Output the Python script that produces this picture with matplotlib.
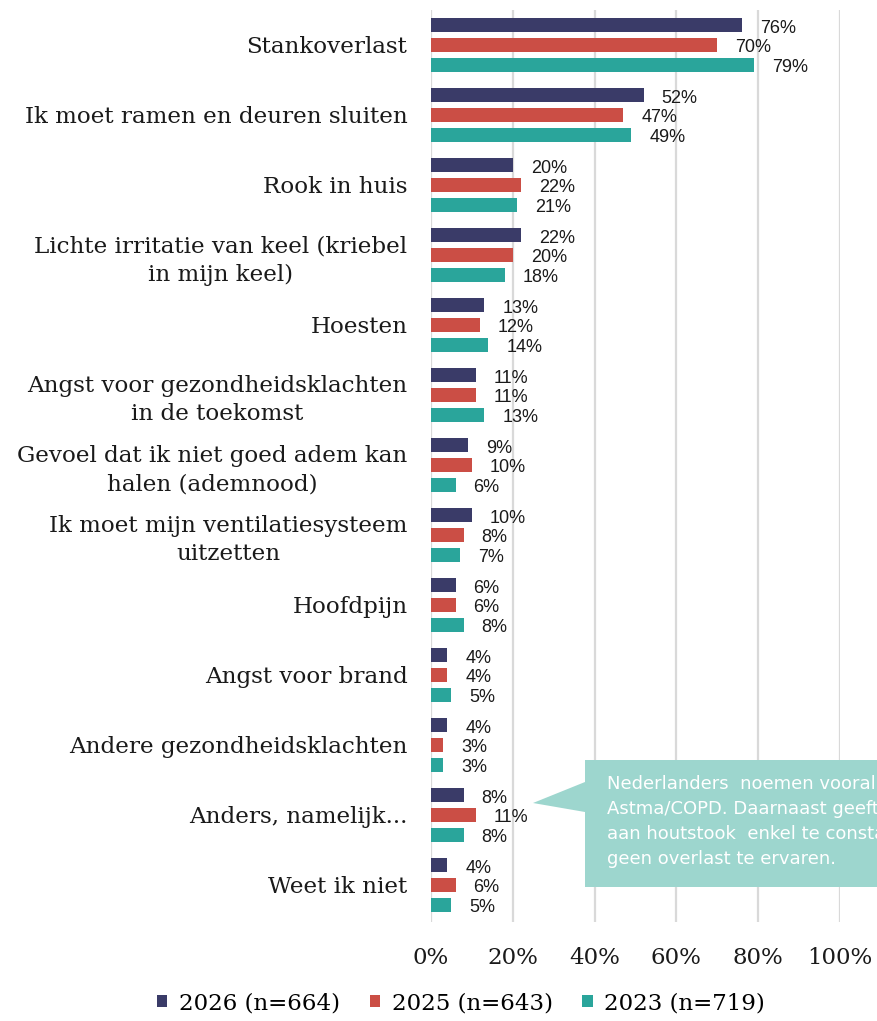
import matplotlib.pyplot as plt
import matplotlib.patches as mpatches
import numpy as np

categories = [
    "Stankoverlast",
    "Ik moet ramen en deuren sluiten",
    "Rook in huis",
    "Lichte irritatie van keel (kriebel\nin mijn keel)",
    "Hoesten",
    "Angst voor gezondheidsklachten\nin de toekomst",
    "Gevoel dat ik niet goed adem kan\nhalen (ademnood)",
    "Ik moet mijn ventilatiesysteem\nuitzetten",
    "Hoofdpijn",
    "Angst voor brand",
    "Andere gezondheidsklachten",
    "Anders, namelijk...",
    "Weet ik niet",
]
vals_2026 = [76, 52, 20, 22, 13, 11, 9, 10, 6, 4, 4, 8, 4]
vals_2025 = [70, 47, 22, 20, 12, 11, 10, 8, 6, 4, 3, 11, 6]
vals_2023 = [79, 49, 21, 18, 14, 13, 6, 7, 8, 5, 3, 8, 5]
series_labels = ["2026 (n=664)", "2025 (n=643)", "2023 (n=719)"]
colors = ["#3a3b68", "#cb4e45", "#2aa59b"]
xticks = [0, 20, 40, 60, 80, 100]

callout_text = ("Nederlanders  noemen vooral hoofdpijn en\n"
                "Astma/COPD. Daarnaast geeft men\n"
                "aan houtstook  enkel te constateren maar\n"
                "geen overlast te ervaren.")

W, H = 877, 1021
fig = plt.figure(figsize=(W / 100, H / 100), dpi=100)
ax = fig.add_axes([431 / W, 1 - 922 / H, 409 / W, 912 / H])

y = np.arange(len(categories))
offsets = [-0.28, 0.0, 0.28]
all_vals = [vals_2026, vals_2025, vals_2023]
for vals, off, col, lab in zip(all_vals, offsets, colors, series_labels):
    ax.barh(y + off, vals, height=0.2, color=col, label=lab, zorder=3)
    for yi, v in zip(y, vals):
        ax.text(v + 4.4, yi + off + 0.04, f"{v}%", va="center", ha="left",
                fontsize=13, family="Liberation Sans", color="#1a1a1a", zorder=4)

ax.set_xlim(0, 100)
ax.set_ylim(12.53, -0.5)
ax.set_xticks(xticks)
ax.set_xticklabels([f"{t}%" for t in xticks], family="DejaVu Serif", fontsize=16.5)
ax.set_yticks(y)
ax.set_yticklabels(categories, family="DejaVu Serif", fontsize=16.6,
                   multialignment="center", linespacing=1.35)
ax.tick_params(axis="both", length=0, colors="#1a1a1a")
ax.tick_params(axis="y", pad=17)
ax.tick_params(axis="x", pad=18)
ax.grid(axis="x", color="#d9d9d9", linewidth=1.6, zorder=0)
for s in ax.spines.values():
    s.set_visible(False)

# callout box (runs off the right edge, as in the original)
pts = [(585, 760), (900, 760), (900, 887), (585, 887), (585, 812), (533, 803), (585, 782)]
box = mpatches.Polygon([(px / W, 1 - py / H) for px, py in pts], closed=True,
                       transform=fig.transFigure, facecolor="#9dd6ce",
                       edgecolor="none", zorder=5)
fig.patches.append(box)
fig.text(607 / W, 1 - 775 / H, callout_text, ha="left", va="top", color="white",
         fontsize=13, family="DejaVu Sans", linespacing=1.5, zorder=6)

leg = fig.legend(loc="center", bbox_to_anchor=(461 / W, 1 - 1003 / H), ncol=3,
                 frameon=False, prop={"family": "DejaVu Serif", "size": 16.5},
                 handlelength=0.45, handleheight=0.45, handletextpad=0.5,
                 columnspacing=1.3)

fig.savefig("out.png", dpi=100)
